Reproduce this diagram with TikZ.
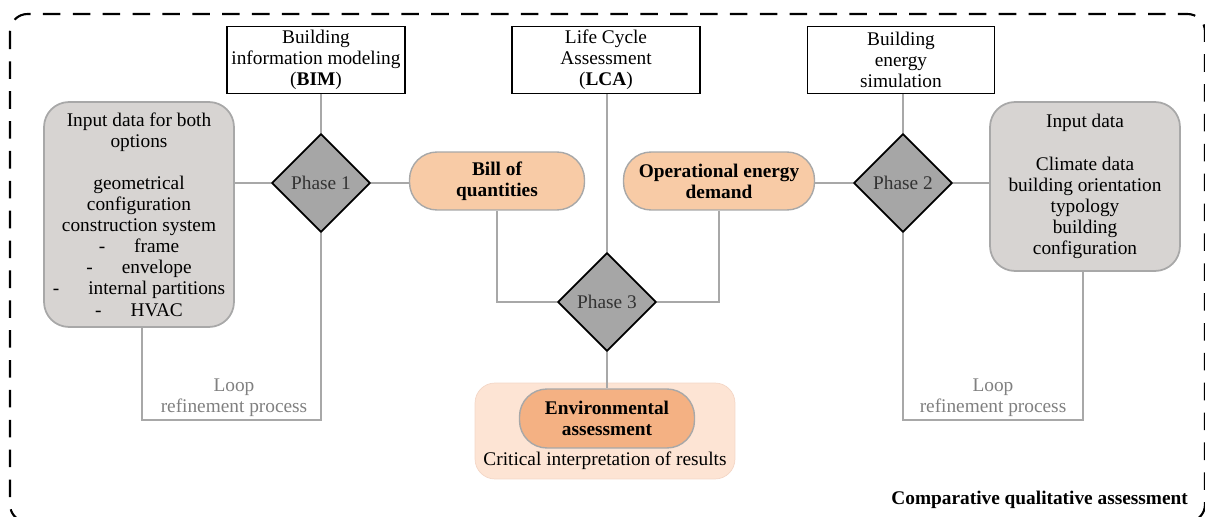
\documentclass[tikz,border=0pt]{standalone}
\usepackage{fontspec}
\setmainfont{Liberation Serif}
\usetikzlibrary{shapes.geometric}

\definecolor{linegray}{HTML}{A8A8A8}
\definecolor{boxgray}{HTML}{D7D4D2}
\definecolor{phasegray}{HTML}{A6A6A6}
\definecolor{peach}{HTML}{F8CBA6}
\definecolor{envorange}{HTML}{F4B183}
\definecolor{envlight}{HTML}{FDE4D4}
\definecolor{envedge}{HTML}{F3D6C6}

\newcommand{\diagfont}{\fontsize{11pt}{12pt}\selectfont}

\tikzset{
	toolbox/.style={draw, line width=.8pt, minimum height=1.34cm, align=center, inner sep=1pt},
	inputbox/.style={draw=linegray, line width=1pt, fill=boxgray, rounded corners=.5cm, align=center, minimum width=3.8cm},
	phase/.style={diamond, draw, line width=1pt, fill=phasegray, minimum width=1.97cm, minimum height=1.97cm, inner sep=0pt, text=black!80},
	result/.style={draw=linegray, line width=.8pt, fill=peach, rounded corners=.55cm, align=center, font=\diagfont\bfseries, minimum height=1.16cm},
	conn/.style={linegray, line width=1pt},
	looplabel/.style={align=center, text=black!50}
}

\begin{document}
\begin{tikzpicture}[x=0.02cm,y=-0.02cm, font=\diagfont]
			\clip (0,0) rectangle (1205,517);
			\draw [dashed, line width=1.2pt, dash pattern=on 10pt off 7pt, rounded corners=.35cm] (10,14) rectangle (1205,522);
			
			% tools
			\node [toolbox, minimum width=3.56cm] (bim) at (316,60) {Building\\information modeling\\(\textbf{BIM})};
			\node [toolbox, minimum width=3.76cm] (lca) at (606,60) {Life Cycle\\Assessment\\(\textbf{LCA})};
			\node [toolbox, minimum width=3.74cm] (bes) at (901,60) {Building\\energy\\simulation};
			
			% input data
			\node [inputbox, minimum height=4.5cm] (inL) at (139,214.5) {Input data for both\\options\\[12pt]geometrical\\configuration\\construction system\\-\hspace{1.5em}frame\\-\hspace{1.5em}envelope\\-\hspace{1.5em}internal partitions\\-\hspace{1.5em}HVAC};
			\node [inputbox, minimum height=3.38cm] (inR) at (1085,186.5) {Input data\\[12pt]Climate data\\building orientation\\typology\\building\\configuration};
			
			% phases
			\node [phase] (p1) at (321,183) {Phase 1};
			\node [phase] (p2) at (903,183) {Phase 2};
			\node [phase] (p3) at (607,302) {Phase 3};
			
			\node [result, minimum width=3.5cm] (boq) at (497,181) {Bill of\\quantities};
			\node [result, minimum width=3.82cm] (oed) at (719,181) {Operational energy\\demand};
			
			% environmental assessment
			\node [draw=envedge, fill=envlight, rounded corners=.4cm, minimum width=5.2cm, minimum height=1.92cm] (envbox) at (605,431) {};
			\node [result, fill=envorange, minimum width=3.5cm, minimum height=1.18cm] (env) at (607,418.5) {Environmental\\assessment};
			\node (crit) at (605,461) {Critical interpretation of results};
			
			% connections
			\draw [conn] (inL.east |- p1) -- (p1.west);
			\draw [conn] (p1.east) -- (boq.west |- p1);
			\draw [conn] (oed.east |- p2) -- (p2.west);
			\draw [conn] (p2.east) -- (inR.west |- p2);
			\draw [conn] (p1.north) -- (p1.north |- bim.south);
			\draw [conn] (p2.north) -- (p2.north |- bes.south);
			\draw [conn] (p3.north |- lca.south) -- (p3.north);
			\draw [conn] (boq.south) |- (p3.west);
			\draw [conn] (oed.south) |- (p3.east);
			\draw [conn] (p3.south) -- (env.north);
			
			% loops
			\coordinate (loopL) at (142,420);
			\coordinate (loopR) at (1083,420);
			\draw [conn] (inL.south -| loopL) -- (loopL) -| (p1.south);
			\draw [conn] (p2.south) |- (loopR) -- (inR.south -| loopR);
			\node [looplabel] (lblL) at (234,398) {Loop\\refinement process};
			\node [looplabel] (lblR) at (993,398) {Loop\\refinement process};
			
			\node [anchor=east, font=\diagfont\bfseries] (title) at (1194,500) {Comparative qualitative assessment};
\end{tikzpicture}
\end{document}
